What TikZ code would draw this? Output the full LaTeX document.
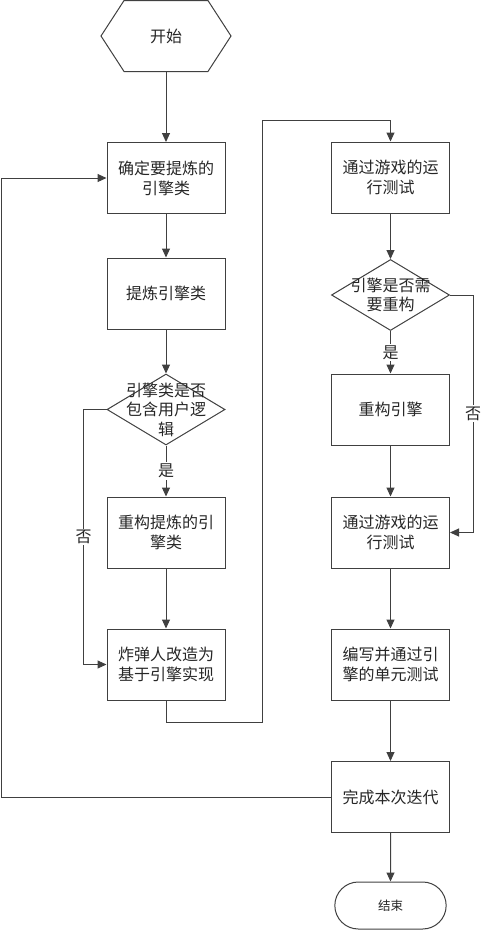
\documentclass[tikz,border=0pt]{standalone}
\usepackage{fontspec}
\newfontfamily\cjk{Noto Sans CJK SC}
\usetikzlibrary{positioning,arrows.meta,shapes.geometric,shapes.symbols,shapes.misc}
\definecolor{linegray}{HTML}{404040}
\tikzset{
	box/.style={rectangle, draw=linegray, line width=1pt, minimum width=118pt, minimum height=71pt,
		align=center, inner sep=2pt, text=black!85, font=\cjk\fontsize{16}{20}\selectfont},
	decision/.style={diamond, draw=linegray, line width=1pt, minimum width=118pt, minimum height=71pt, inner sep=0pt},
	dtext/.style={align=center, text=black!85, font=\cjk\fontsize{16}{19.5}\selectfont},
	startnode/.style={signal, signal to=east and west, signal pointer angle=114, draw=linegray, line width=1pt,
		minimum width=130pt, minimum height=71pt, text=black!85, font=\cjk\fontsize{16}{20}\selectfont},
	endnode/.style={rounded rectangle, draw=linegray, line width=1pt, minimum width=118pt, minimum height=47pt,
		text=black!85, font=\cjk\fontsize{12.5}{15}\selectfont},
	answer/.style={fill=white, inner sep=1.5pt, text=black!85, font=\cjk\fontsize{16}{20}\selectfont},
	flow/.style={->, draw=linegray, line width=1pt}
}

\begin{document}
\begin{tikzpicture}[x=1pt,y=-1pt,>={Triangle[length=9pt,width=8pt]},
	every edge/.style={draw=linegray, line width=1pt}]
\useasboundingbox (0,0) rectangle (481,930);

\node[startnode] (start) at (166,36) {开始};
\node[box] (pick) at (166,178) {确定要提炼的\\引擎类};
\node[box] (extract) at (166,293.5) {提炼引擎类};
\node[decision, label={[dtext]center:引擎类是否\\包含用户逻\\辑}] (hasuser) at (166,409.5) {};
\node[box] (rebuild) at (166,532.5) {重构提炼的引\\擎类};
\node[box] (bomber) at (166,664.5) {炸弹人改造为\\基于引擎实现};

\node[box] (pass1) at (390.5,177.5) {通过游戏的运\\行测试};
\node[decision, label={[dtext]center:引擎是否需\\要重构}] (needref) at (390.5,295) {};
\node[box] (refengine) at (390.5,409.5) {重构引擎};
\node[box] (pass2) at (390.5,532.5) {通过游戏的运\\行测试};
\node[box] (unit) at (390.5,664.5) {编写并通过引\\擎的单元测试};
\node[box] (done) at (390.5,797) {完成本次迭代};
\node[endnode] (stop) at (390.5,905.5) {结束};

\coordinate (jumpdown) at (262,722);
\coordinate (jumpup) at (262,120);
\coordinate (back) at (1.5,178);

\path[flow]
(start) edge (pick)
(pick) edge (extract)
(extract) edge (hasuser)
(hasuser) edge node[answer] {是} (rebuild)
(rebuild) edge (bomber)
(pass1) edge (needref)
(needref) edge node[answer] {是} (refengine)
(refengine) edge (pass2)
(pass2) edge (unit)
(unit) edge (done)
(done) edge (stop);

\draw[flow] (hasuser.west) -- ++(-23,0) |- node[answer, pos=0.25] {否} (bomber.west);
\draw[flow] (needref.east) -- ++(23,0) |- node[answer, pos=0.25] {否} (pass2.east);
\draw[flow] (bomber.south) |- (jumpdown) -- (jumpup) -| (pass1.north);
\draw[flow] (done.west) -| (back) -- (pick.west);

\end{tikzpicture}
\end{document}
